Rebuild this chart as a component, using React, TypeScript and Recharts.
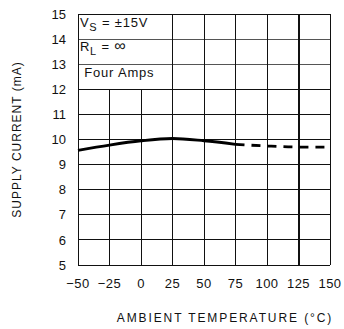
import {
  LineChart,
  Line,
  XAxis,
  YAxis,
  ReferenceLine,
  ReferenceDot,
} from "recharts";

if (typeof document !== "undefined") {
  document.body.style.margin = "0";
}

// Supply current vs ambient temperature
const temps = [-50, -25, 0, 25, 50, 75, 100, 125, 150];
const measuredCurrent = [9.57, 9.78, 9.95, 10.04, 9.95, 9.81, null, null, null];
const extrapolatedCurrent = [null, null, null, null, null, 9.81, 9.74, 9.7, 9.7];
const yTicks = [5, 6, 7, 8, 9, 10, 11, 12, 13, 14, 15];
const xTicks = [-50, -25, 0, 25, 50, 75, 100, 125, 150];
// vertical grid lines that stop under the annotation box
const shortVerticals = [-25, 0];

const FONT = "'Liberation Sans', Arial, sans-serif";
const INK = "#111";

const data = temps.map((t, i) => ({
  temp: t,
  measured: measuredCurrent[i],
  extrapolated: extrapolatedCurrent[i],
}));

const fmtTick = (v: number) => (v < 0 ? `\u2212${Math.abs(v)}` : `${v}`);

function Note({ cx, cy, children }: any) {
  return (
    <text x={cx} y={cy} fontFamily={FONT} fontSize={13} fill={INK} letterSpacing={0.8}>
      {children}
    </text>
  );
}

export default function App() {
  return (
    <LineChart
      width={344}
      height={329}
      data={data}
      margin={{ top: 14, right: 14, bottom: 0, left: 0 }}
    >
      <XAxis
        dataKey="temp"
        type="number"
        domain={[-50, 150]}
        ticks={xTicks}
        tickFormatter={fmtTick}
        axisLine={false}
        tickLine={false}
        tickMargin={8}
        height={64}
        tick={{ fontSize: 13, fill: INK, fontFamily: FONT, letterSpacing: 0.4 }}
        label={{
          content: ({ viewBox }: any) => (
            <text
              x={viewBox.x + viewBox.width / 2 + 21}
              y={viewBox.y + viewBox.height - 7}
              textAnchor="middle"
              fontFamily={FONT}
              fontSize={12}
              fill={INK}
              letterSpacing={1.9}
            >
              AMBIENT TEMPERATURE (°C)
            </text>
          ),
        }}
      />
      <YAxis
        type="number"
        domain={[5, 15]}
        ticks={yTicks}
        axisLine={false}
        tickLine={false}
        tickMargin={6}
        width={78}
        tick={{ fontSize: 13, fill: INK, fontFamily: FONT }}
        label={{
          content: ({ viewBox }: any) => {
            const x = viewBox.x + 17;
            const y = viewBox.y + viewBox.height / 2;
            return (
              <text
                x={x}
                y={y}
                transform={`rotate(-90 ${x} ${y})`}
                textAnchor="middle"
                dominantBaseline="central"
                fontFamily={FONT}
                fontSize={12}
                fill={INK}
                letterSpacing={1}
              >
                SUPPLY CURRENT (mA)
              </text>
            );
          },
        }}
      />

      {yTicks.map((v) => (
        <ReferenceLine
          key={`h${v}`}
          y={v}
          stroke={v === 13 || v === 14 ? "#555" : INK}
          strokeWidth={1}
          shapeRendering="crispEdges"
        />
      ))}
      {xTicks.map((v) =>
        shortVerticals.includes(v) ? (
          <ReferenceLine
            key={`v${v}`}
            segment={[
              { x: v, y: 5 },
              { x: v, y: 12 },
            ]}
            stroke={INK}
            strokeWidth={1}
            shapeRendering="crispEdges"
          />
        ) : (
          <ReferenceLine
            key={`v${v}`}
            x={v}
            stroke={INK}
            strokeWidth={v === 125 ? 2 : 1}
            shapeRendering="crispEdges"
          />
        )
      )}

      <Line
        dataKey="measured"
        type="monotone"
        stroke="#000"
        strokeWidth={2.8}
        dot={false}
        connectNulls={false}
        isAnimationActive={false}
      />
      <Line
        dataKey="extrapolated"
        type="monotone"
        stroke="#000"
        strokeWidth={2.8}
        strokeDasharray="9 7"
        dot={false}
        connectNulls={false}
        isAnimationActive={false}
      />

      <ReferenceDot
        x={-48.5}
        y={14.48}
        r={0}
        shape={(p: any) => (
          <Note cx={p.cx} cy={p.cy}>
            V
            <tspan fontSize={11} dy={4}>S</tspan>
            <tspan dy={-4}> = ±15V</tspan>
          </Note>
        )}
      />
      <ReferenceDot
        x={-48.5}
        y={13.52}
        r={0}
        shape={(p: any) => (
          <Note cx={p.cx} cy={p.cy}>
            R
            <tspan fontSize={11} dy={4}>L</tspan>
            <tspan dy={-4}> = </tspan>
            <tspan fontSize={16}>∞</tspan>
          </Note>
        )}
      />
      <ReferenceDot
        x={-45}
        y={12.5}
        r={0}
        shape={(p: any) => (
          <Note cx={p.cx} cy={p.cy}>
            Four Amps
          </Note>
        )}
      />
    </LineChart>
  );
}
